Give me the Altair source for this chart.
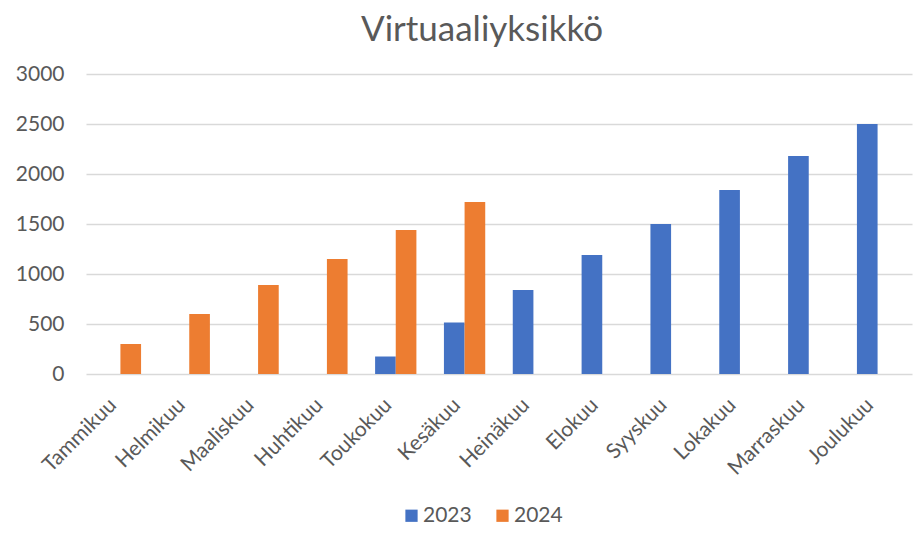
import altair as alt
import pandas as pd

months = ["Tammikuu", "Helmikuu", "Maaliskuu", "Huhtikuu", "Toukokuu", "Kesäkuu",
          "Heinäkuu", "Elokuu", "Syyskuu", "Lokakuu", "Marraskuu", "Joulukuu"]
years = ["2023", "2024"]
values_2023 = [None, None, None, None, 175, 515, 840, 1190, 1500, 1840, 2180, 2500]
values_2024 = [300, 600, 890, 1150, 1440, 1720, None, None, None, None, None, None]
y_ticks = [0, 500, 1000, 1500, 2000, 2500, 3000]
colors = ["#4472C4", "#ED7D31"]

rows = []
for m, a, b in zip(months, values_2023, values_2024):
    if a is not None:
        rows.append({"kuukausi": m, "vuosi": "2023", "arvo": a})
    if b is not None:
        rows.append({"kuukausi": m, "vuosi": "2024", "arvo": b})
df = pd.DataFrame(rows)

txt = "#595959"
FONT = "Lato"

chart = alt.Chart(df).mark_bar().encode(
    x=alt.X("kuukausi:N", sort=months,
            scale=alt.Scale(domain=months, paddingInner=0.4, paddingOuter=0.2),
            axis=alt.Axis(title=None, labelAngle=-45, ticks=False, domain=False,
                          labelFontSize=21, labelColor=txt, labelFont=FONT,
                          labelPadding=20, labelOffset=-15)),
    xOffset=alt.XOffset("vuosi:N", scale=alt.Scale(domain=years, paddingInner=0, paddingOuter=0)),
    y=alt.Y("arvo:Q", scale=alt.Scale(domain=[0, 3000], nice=False),
            axis=alt.Axis(values=y_ticks, format="d", title=None, domain=False, ticks=False,
                          grid=True, gridColor="#d9d9d9", gridWidth=1.3,
                          labelFontSize=21, labelColor=txt, labelFont=FONT,
                          labelPadding=22)),
    color=alt.Color("vuosi:N", scale=alt.Scale(domain=years, range=colors),
                    legend=alt.Legend(title=None, orient="none", legendX=315, legendY=431,
                                      direction="horizontal", symbolType="square",
                                      symbolSize=150, symbolStrokeWidth=0,
                                      labelFontSize=21, labelColor=txt, labelFont=FONT,
                                      columnPadding=20, labelOffset=1)),
).properties(
    width=826, height=300,
    title=alt.TitleParams("Virtuaaliyksikkö", fontSize=35, font=FONT, fontWeight=400,
                          color=txt, anchor="middle", offset=15, dx=-17),
    padding={"left": 78, "top": 66, "right": 1, "bottom": 151},
    autosize=alt.AutoSizeParams(type="none"),
).configure_view(stroke=None)

chart.save("out.html", embed_options={"renderer": "svg", "actions": False})
